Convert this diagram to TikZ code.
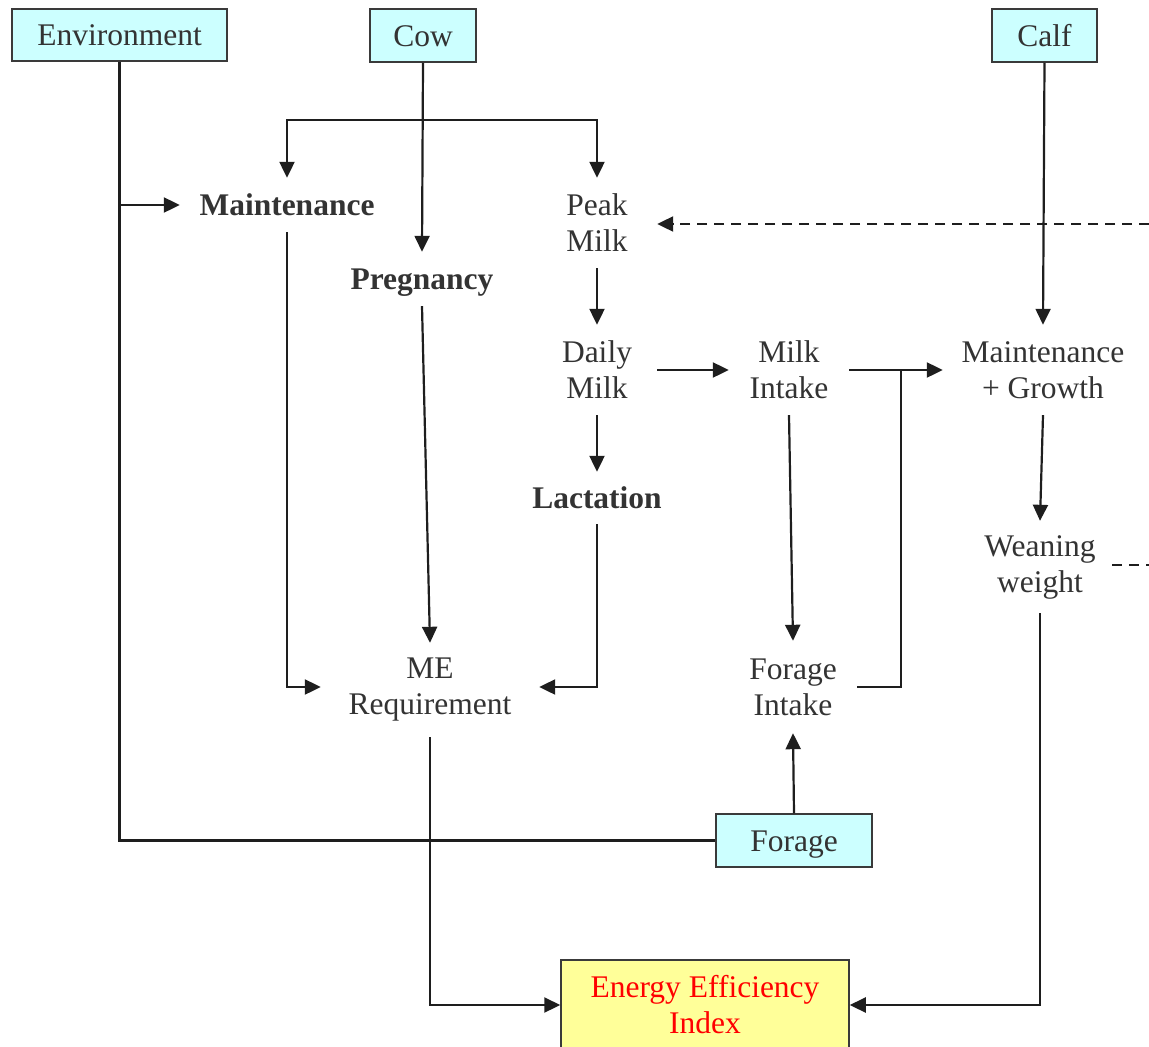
\documentclass[tikz,border=0pt]{standalone}
\usepackage{fontspec}
\setmainfont{Liberation Serif}
\usetikzlibrary{arrows.meta}
\definecolor{tc}{HTML}{333333}
\definecolor{lc}{HTML}{1E1E1E}
\definecolor{bc}{HTML}{3A3A3A}
\definecolor{cyanc}{HTML}{CCFFFF}
\definecolor{yelc}{HTML}{FFFF99}
\begin{document}
\begin{tikzpicture}[x=1pt,y=-1pt,
  txt/.style={text=tc, font=\fontsize{31.5}{36}\selectfont, align=center, inner sep=0pt},
  one/.style={text height=21pt, text depth=0pt},
  bx/.style={draw=bc, line width=1.5pt, fill=cyanc, text=tc, font=\fontsize{31.5}{36}\selectfont, align=center, inner sep=0pt},
  ln/.style={draw=lc, line width=2.2pt},
  arr/.style={ln, -{Triangle[length=16pt,width=15pt]}}
]
\useasboundingbox (0,0) rectangle (1149,1047);
% boxes
\node[bx, one, minimum width=215, minimum height=52] (env) at (119.5,35) {Environment};
\node[bx, one, minimum width=106, minimum height=53] (cow) at (423,35.5) {Cow};
\node[bx, one, minimum width=105, minimum height=53] (calf) at (1044.5,35.5) {Calf};
\node[bx, one, minimum width=156, minimum height=53] (forage) at (794,840.5) {Forage};
\node[bx, fill=yelc, text=red, minimum width=288, minimum height=90] (eei) at (705,1005) {Energy Efficiency\\Index};
% text nodes
\node[txt, one, font=\fontsize{31.5}{36}\selectfont\bfseries, minimum width=214, minimum height=54] (mnt) at (287,205) {Maintenance};
\node[txt, one, font=\fontsize{31.5}{36}\selectfont\bfseries, minimum width=160, minimum height=54] (preg) at (422,279) {Pregnancy};
\node[txt, minimum width=120, minimum height=90] (peak) at (597,223) {Peak\\Milk};
\node[txt, minimum width=120, minimum height=90] (daily) at (597,370) {Daily\\Milk};
\node[txt, minimum width=120, minimum height=90] (milk) at (789,370) {Milk\\Intake};
\node[txt, minimum width=200, minimum height=90] (mg) at (1043,370) {Maintenance\\+ Growth};
\node[txt, one, font=\fontsize{31.5}{36}\selectfont\bfseries, minimum width=140, minimum height=52] (lact) at (597,498) {Lactation};
\node[txt, minimum width=144, minimum height=92] (wean) at (1040,567) {Weaning\\weight};
\node[txt, minimum width=218, minimum height=94] (me) at (430,690) {ME\\Requirement};
\node[txt, minimum width=128, minimum height=92] (fi) at (793,687) {Forage\\Intake};
% helper coordinates
\coordinate (cowj) at (423,120);
\coordinate (mj) at (901,370);
\coordinate (rt1) at (1149,224);
\coordinate (rt2) at (1149,565);
% connectors
\draw[arr] (cow.south) -- (preg.north);
\draw[arr] (cowj) -| (mnt.north);
\draw[arr] (cowj) -| (peak.north);
\draw[ln] (env.south) |- (forage.west);
\draw[arr] (env.south |- mnt.west) -- (mnt.west);
\draw[arr] (mnt.south) |- (me.west |- fi.east);
\draw[arr] (preg.south) -- (me.north);
\draw[arr] (peak.south) -- (daily.north);
\draw[arr] (daily.east) -- (milk.west);
\draw[arr] (daily.south) -- (lact.north);
\draw[arr] (lact.south) |- (me.east |- fi.east);
\draw[arr] (milk.east) -- (mg.west);
\draw[arr] (milk.south) -- (fi.north);
\draw[ln] (fi.east) -| (mj);
\draw[arr] (forage.north) -- (fi.south);
\draw[arr] (calf.south) -- (mg.north);
\draw[arr] (mg.south) -- (wean.north);
\draw[arr, dashed, dash pattern=on 10pt off 7pt] (rt1) -- (peak.east |- rt1);
\draw[ln, dashed, dash pattern=on 10pt off 7pt] (wean.east |- rt2) -- (rt2);
\draw[arr] (me.south) |- (eei.west);
\draw[arr] (wean.south) |- (eei.east);
\end{tikzpicture}
\end{document}
